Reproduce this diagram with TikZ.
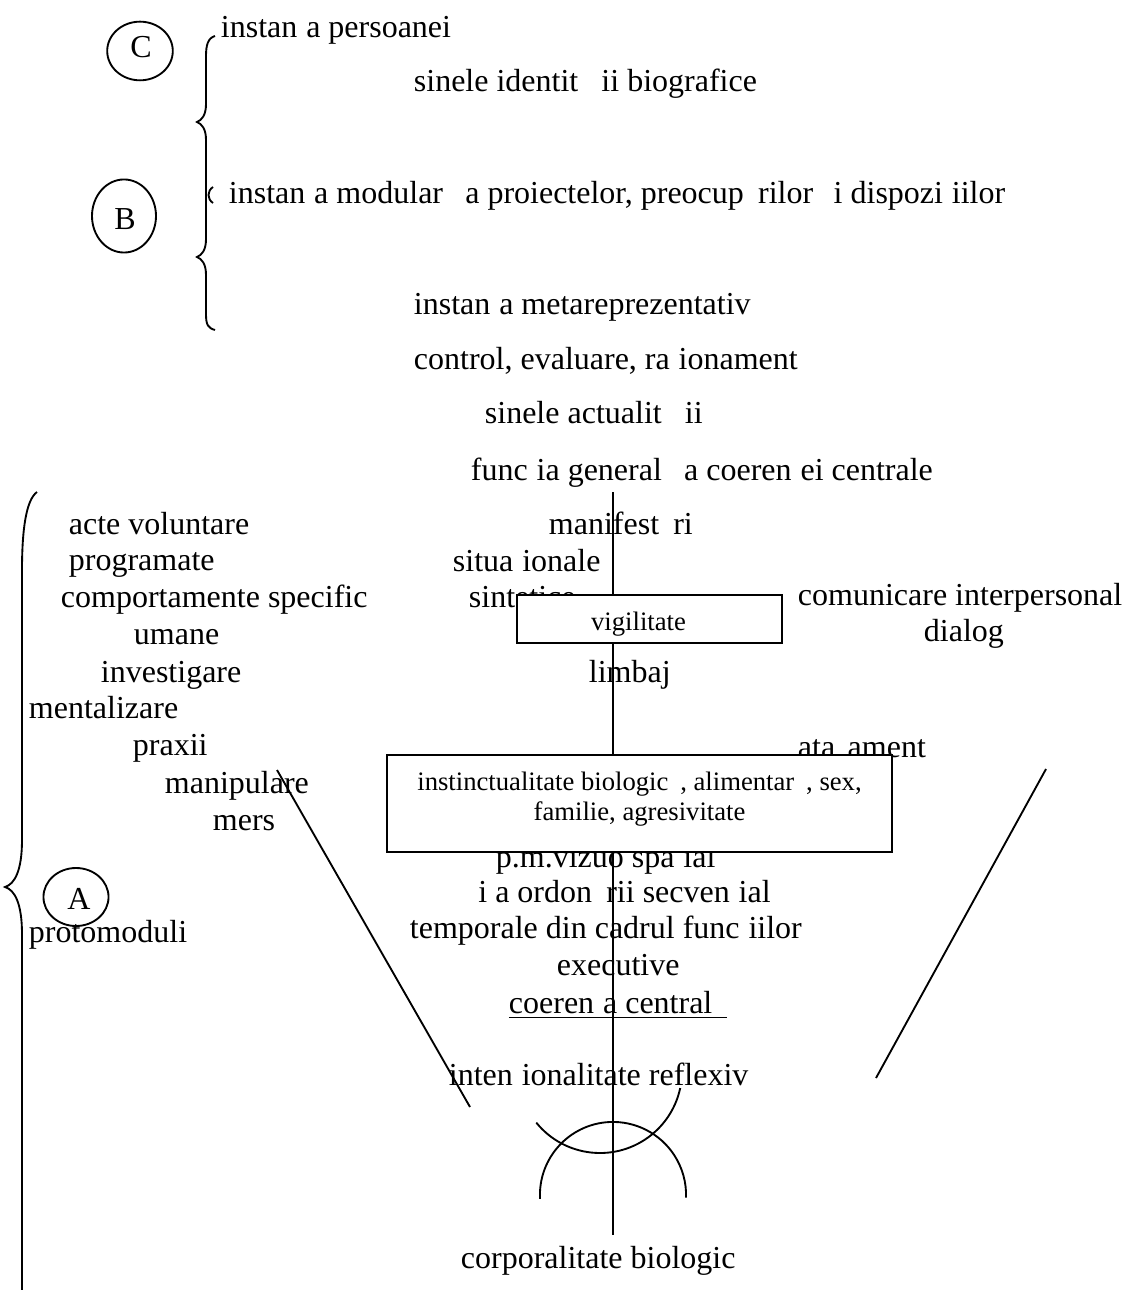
\documentclass[tikz,border=0pt]{standalone}
\usepackage{fontspec}
\setmainfont{Liberation Serif}
\usetikzlibrary{shapes.geometric}
% blank slot of the width of a letter
\newcommand{\gp}[1]{\hphantom{#1}}

\begin{document}
\begin{tikzpicture}[x=0.375pt, y=-0.375pt, line width=0.7pt,
  txt/.style={anchor=base west, inner sep=0pt, font=\fontsize{12}{13.8}\selectfont},
  boxtxt/.style={anchor=base, inner sep=0pt, font=\fontsize{10}{11.25}\selectfont},
  panel/.style={draw, fill=white, rectangle, inner sep=0pt},
  ring/.style={draw, ellipse, inner sep=0pt},
  letter/.style={inner sep=0pt, font=\fontsize{12}{13.8}\selectfont}]

\useasboundingbox (0,0) rectangle (1126,1290);

% ---- level C / B ----
\node[ring, minimum width=24.6pt, minimum height=22pt] (rC) at (140,51) {};
\node[letter] (lC) at (141,47) {C};
\node[ring, minimum width=24pt, minimum height=27.4pt] (rB) at (124,216) {};
\node[letter] (lB) at (125,219) {B};

% upper brace with two cusps
\draw (215,36) .. controls (208,38) and (206,45) .. (206,56) -- (206,104)
  .. controls (206,115) and (202,120) .. (197,122)
  .. controls (202,124) and (206,129) .. (206,140) -- (206,239)
  .. controls (206,250) and (202,255) .. (197,257)
  .. controls (202,259) and (206,264) .. (206,275) -- (206,314)
  .. controls (206,325) and (208,328) .. (215,330);
\draw (213,187) .. controls (207,191) and (207,199) .. (213,203);

\node[txt] (t1) at (220,38) {instan\gp{ţ}a persoanei};
\node[txt] (t2) at (413,92) {sinele identit\gp{ă}\gp{ţ}ii biografice};
\node[txt] (t3) at (228,204) {instan\gp{ţ}a modular\gp{ă} a proiectelor, preocup\gp{ă}rilor \gp{ş}i dispozi\gp{ţ}iilor};
\node[txt] (t4) at (413,315) {instan\gp{ţ}a metareprezentativ\gp{ă}};
\node[txt] (t5) at (413,370) {control, evaluare, ra\gp{ţ}ionament};
\node[txt] (t6) at (484,424) {sinele actualit\gp{ă}\gp{ţ}ii};
\node[txt] (t7) at (470,480) {func\gp{ţ}ia general\gp{ă} a coeren\gp{ţ}ei centrale};

% ---- level A: left column ----
\draw (37,492) .. controls (26,500) and (22,530) .. (22,570) -- (22,840)
  .. controls (22,870) and (15,884) .. (5,887)
  .. controls (15,890) and (22,904) .. (22,934) -- (22,1290);

\node[txt] (a1) at (68,534) {acte voluntare};
\node[txt] (a2) at (68,570) {programate};
\node[txt] (a3) at (60,607) {comportamente specific};
\node[txt] (a4) at (133,644) {umane};
\node[txt] (a5) at (100,682) {investigare};
\node[txt] (a6) at (28,718) {mentalizare};
\node[txt] (a7) at (132,755) {praxii};
\node[txt] (a8) at (164,793) {manipulare};
\node[txt] (a9) at (212,830) {mers};
\node[txt] (proto) at (28,942) {protomoduli};
\node[ring, minimum width=24.4pt, minimum height=21.75pt] (rA) at (76,897) {};
\node[letter] (lA) at (79,899) {A};

% ---- central column ----
\node[txt] (c1) at (548,534) {manifest\gp{ă}ri};
\node[txt] (c2) at (452,571) {situa\gp{ţ}ionale};
\node[txt] (c3) at (468,607) {sintetice};
\node[txt] (c4) at (588,682) {limbaj};
\node[txt] (r1) at (797,605) {comunicare interpersonal\gp{ă}};
\node[txt] (r2) at (923,641) {dialog};
\node[txt] (r3) at (797,757) {ata\gp{ş}ament};
\node[txt] (c5) at (495,867) {p.m.vizuo spa\gp{ţ}ial};
\node[txt] (c6) at (465,902) {\gp{ş}i a ordon\gp{ă}rii secven\gp{ţ}ial};
\node[txt] (c7) at (409,938) {temporale din cadrul func\gp{ţ}iilor};
\node[txt] (c8) at (556,975) {executive};
\node[txt] (c9) at (508,1013) {$\underline{\hbox{coeren\gp{ţ}a central\gp{ă}}}$};
\node[txt] (c10) at (448,1085) {inten\gp{ţ}ionalitate reflexiv\gp{ă}};
\node[txt] (c11) at (460,1268) {corporalitate biologic\gp{ă}};

% vertical axis
\coordinate (axtop) at (613,492);
\coordinate (axbot) at (613,1235);
\draw (axtop) -- (axbot);

% side strokes
\coordinate (dl1) at (277,770);
\coordinate (dl2) at (470,1107);
\draw (dl1) -- (dl2);
\coordinate (dr1) at (1046,769);
\coordinate (dr2) at (876,1078);
\draw (dr1) -- (dr2);

% arcs at the base
\draw ([shift={(219:30.75pt)}]600,1071) arc[start angle=219, end angle=348, radius=30.75pt];
\draw ([shift={(183:27.4pt)}]613,1195) arc[start angle=183, end angle=-2, radius=27.4pt];

% boxes
\node[panel, minimum width=99.4pt, minimum height=18pt] (vig) at (649.5,619) {};
\node[boxtxt] (vigt) at (638.5,630) {vigilitate};
\node[panel, minimum width=189.4pt, minimum height=36.4pt] (inst) at (639.5,803.5) {};
\node[boxtxt] (inst1) at (639.5,790) {instinctualitate biologic\gp{ă}, alimentar\gp{ă}, sex,};
\node[boxtxt] (inst2) at (639.5,820) {familie, agresivitate};

\end{tikzpicture}
\end{document}
